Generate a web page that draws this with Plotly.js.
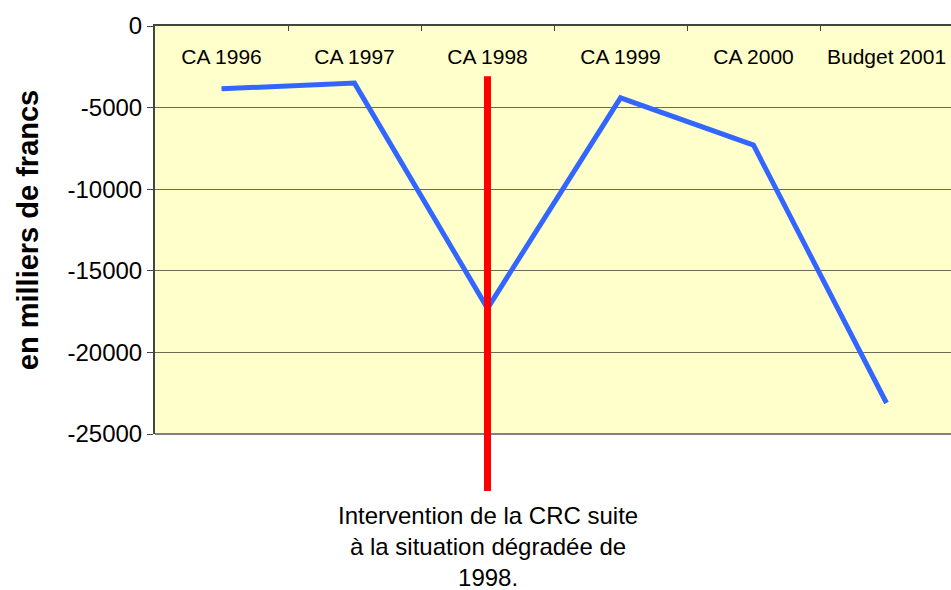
<!DOCTYPE html>
<html>
<head>
<meta charset="utf-8">
<script src="https://cdn.plot.ly/plotly-3.0.1.min.js"></script>
<style>html,body{margin:0;padding:0;background:#fff;}#chart{width:951px;height:590px;}</style>
</head>
<body>
<div id="chart"></div>
<script>
const categories = ['CA 1996', 'CA 1997', 'CA 1998', 'CA 1999', 'CA 2000', 'Budget 2001'];
const values = [-3850, -3500, -17300, -4400, -7300, -23100];
const yTickVals = [0, -5000, -10000, -15000, -20000, -25000];
const yTickText = ['0', '-5000', '-10000', '-15000', '-20000', '-25000'];
const markerCategory = 'CA 1998';
const noteText = 'Intervention de la CRC suite<br>à la situation dégradée de<br>1998.';
const yTitle = 'en milliers de francs';

const FONT = 'Arial, "Liberation Sans", sans-serif';
const catIndex = categories.map((c, i) => i);

const trace = {
  type: 'scatter',
  mode: 'lines',
  x: categories,
  y: values,
  line: {color: '#3366FF', width: 5},
  hoverinfo: 'skip'
};

// carrier for the category label axis (draws nothing itself)
const labelCarrier = {
  type: 'scatter',
  mode: 'none',
  x: catIndex,
  y: values,
  xaxis: 'x2',
  yaxis: 'y',
  hoverinfo: 'skip',
  showlegend: false
};

const layout = {
  width: 951,
  height: 590,
  margin: {l: 155, r: 0, t: 26, b: 156, pad: 0},
  paper_bgcolor: '#FFFFFF',
  plot_bgcolor: '#FFFFCC',
  showlegend: false,
  font: {family: FONT, color: '#000000'},
  xaxis: {
    type: 'category',
    side: 'top',
    range: [-0.5, 5.485],
    ticks: 'inside',
    tickson: 'boundaries',
    ticklen: 5,
    tickcolor: '#444444',
    showticklabels: false,
    showline: true,
    linecolor: '#444444',
    linewidth: 2,
    showgrid: false,
    zeroline: false,
    fixedrange: true
  },
  xaxis2: {
    overlaying: 'x',
    anchor: 'free',
    position: 0.962,
    side: 'bottom',
    type: 'linear',
    range: [-0.5, 5.485],
    tickmode: 'array',
    tickvals: catIndex,
    ticktext: categories,
    ticks: '',
    showline: false,
    showgrid: false,
    zeroline: false,
    tickfont: {family: FONT, size: 21, color: '#000000'},
    fixedrange: true
  },
  yaxis: {
    range: [-25000, 0],
    tickmode: 'array',
    tickvals: yTickVals,
    ticktext: yTickText,
    ticks: 'outside',
    ticklen: 6,
    tickcolor: '#444444',
    tickfont: {family: FONT, size: 24, color: '#000000'},
    showline: true,
    linecolor: '#444444',
    linewidth: 2,
    showgrid: true,
    gridcolor: '#6b6b5a',
    gridwidth: 1,
    zeroline: false,
    fixedrange: true,
    title: {text: yTitle, font: {family: FONT, size: 29, color: '#000000', weight: 'bold'}, standoff: 20}
  },
  shapes: [
    {type: 'line', xref: 'paper', yref: 'paper', x0: 0, x1: 1, y0: 0, y1: 0,
     line: {color: '#808080', width: 2}},
    {type: 'line', xref: 'x', yref: 'paper', x0: markerCategory, x1: markerCategory, y0: -0.14, y1: 0.877,
     line: {color: '#FF0000', width: 7}}
  ],
  annotations: [
    {xref: 'x', yref: 'paper', x: markerCategory, y: -0.276, xanchor: 'center', yanchor: 'middle',
     text: noteText, showarrow: false, align: 'center',
     font: {family: FONT, size: 24, color: '#000000'}}
  ]
};

Plotly.newPlot('chart', [trace, labelCarrier], layout, {displayModeBar: false, staticPlot: true});
</script>
</body>
</html>
